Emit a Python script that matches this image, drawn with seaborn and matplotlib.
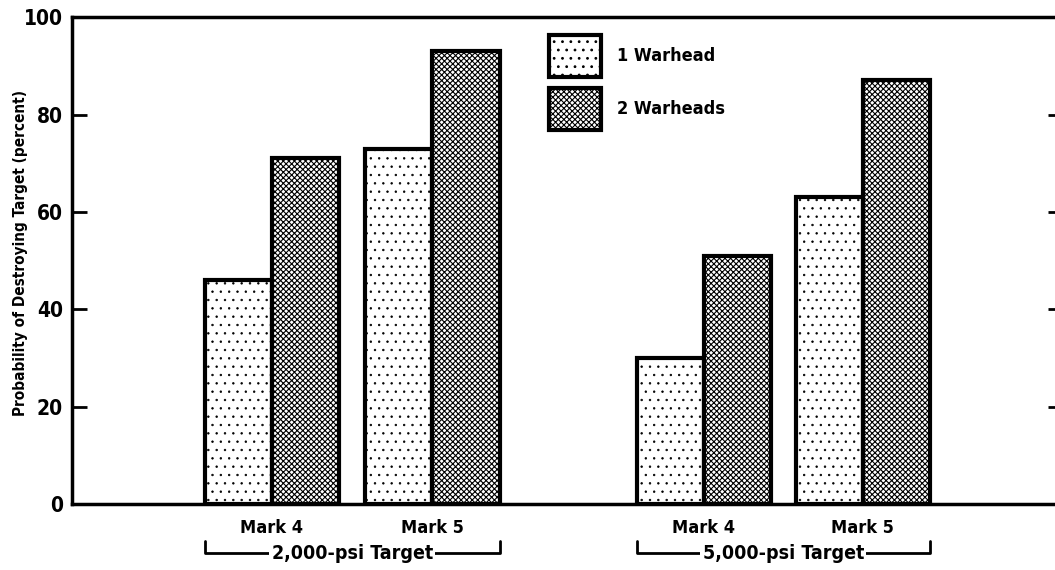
import pandas as pd
import matplotlib
matplotlib.use("Agg")
import matplotlib.pyplot as plt
import matplotlib.transforms as mtransforms
from matplotlib.lines import Line2D
import seaborn as sns

# =================================================================
# DATI
# =================================================================
targets = ["2,000-psi Target", "2,000-psi Target", "5,000-psi Target", "5,000-psi Target"]
missiles = ["Mark 4", "Mark 5", "Mark 4", "Mark 5"]
one_warhead = [46, 73, 30, 63]
two_warheads = [71, 93, 51, 87]
series_labels = ["1 Warhead", "2 Warheads"]
y_ticks = [0, 20, 40, 60, 80, 100]
y_label = "Probability of Destroying Target (percent)"

# layout: centri dei gruppi sull'asse x (spazio extra tra i due target)
group_pos = [1.0, 2.0, 3.69, 4.68]
PAIR_WIDTH = 0.835
# =================================================================

sns.set_style("ticks")
plt.rcParams["font.family"] = ["DejaVu Sans"]
plt.rcParams["font.stretch"] = "condensed"
plt.rcParams["font.weight"] = "bold"
plt.rcParams["text.color"] = "black"
plt.rcParams["axes.labelcolor"] = "black"
plt.rcParams["xtick.color"] = "black"
plt.rcParams["ytick.color"] = "black"
plt.rcParams["hatch.linewidth"] = 0.8
plt.rcParams["hatch.color"] = "black"


def build_frame():
    rows = []
    for pos, tgt, m, v1, v2 in zip(group_pos, targets, missiles, one_warhead, two_warheads):
        rows.append({"pos": pos, "target": tgt, "missile": m, "series": series_labels[0], "value": v1})
        rows.append({"pos": pos, "target": tgt, "missile": m, "series": series_labels[1], "value": v2})
    return pd.DataFrame(rows)


def main():
    df = build_frame()
    fig = plt.figure(figsize=(10.55, 5.70), dpi=100)
    ax = fig.add_axes([0.0682, 0.1158, 0.9318, 0.854])

    min_gap = min(b - a for a, b in zip(sorted(group_pos)[:-1], sorted(group_pos)[1:]))
    sns.barplot(data=df, x="pos", y="value", hue="series", hue_order=series_labels,
                native_scale=True, width=PAIR_WIDTH / min_gap, dodge=True,
                palette=["white", "white"], edgecolor="black", linewidth=3,
                errorbar=None, legend=False, ax=ax)

    # retini: puntinato rado per 1 testata, trama fitta per 2 testate
    for container, hatch, hlw in zip(ax.containers, ["..", "xxxxxx"], [0.5, 0.8]):
        for bar in container:
            bar.set_hatch(hatch)
            if hasattr(bar, "set_hatch_linewidth"):
                bar.set_hatch_linewidth(hlw)

    ax.set_ylim(0, 100)
    ax.set_xlim(-0.246, 5.878)
    ax.set_yticks(y_ticks)
    ax.set_yticklabels([str(t) for t in y_ticks], fontsize=15, fontweight="bold")
    ax.set_xticks(group_pos)
    ax.set_xticklabels(missiles, fontsize=13, fontweight="bold")
    ax.tick_params(axis="x", length=0, pad=11)
    ax.tick_params(axis="y", direction="in", length=11, width=2, pad=6.5)
    ax.set_xlabel("")
    ax.set_ylabel(y_label, fontsize=11, fontweight="bold")
    ax.yaxis.set_label_coords(-0.045, 0.515)

    for side in ["top", "left", "bottom"]:
        ax.spines[side].set_linewidth(2.5)
        ax.spines[side].set_color("black")
    ax.spines["right"].set_visible(False)

    # tacche corte sul lato destro
    ax2 = ax.twinx()
    ax2.set_ylim(ax.get_ylim())
    ax2.set_yticks(y_ticks[1:-1])
    ax2.tick_params(axis="y", direction="in", length=5, width=2, labelright=False)
    for side in ax2.spines:
        ax2.spines[side].set_visible(False)

    # legenda
    ax.legend(handles=list(ax.containers), labels=series_labels, loc="upper left",
              bbox_to_anchor=(0.485, 0.963), frameon=False, borderpad=0, borderaxespad=0,
              handlelength=2.88, handleheight=3.2, labelspacing=0.58, handletextpad=0.89,
              prop={"size": 13, "weight": "bold", "stretch": "condensed"})

    # parentesi sotto ogni target
    trans = mtransforms.blended_transform_factory(ax.transData, ax.transAxes)
    for tgt in dict.fromkeys(targets):
        pos = [p for p, t in zip(group_pos, targets) if t == tgt]
        left = min(pos) - PAIR_WIDTH / 2
        right = max(pos) + PAIR_WIDTH / 2
        line = Line2D([left, left, right, right], [-0.076, -0.101, -0.101, -0.076],
                      transform=trans, color="black", lw=2, clip_on=False, zorder=3)
        ax.add_line(line)
        ax.text((left + right) / 2, -0.101, tgt, transform=trans, ha="center", va="center",
                fontsize=14, fontweight="bold", zorder=4, clip_on=False,
                bbox=dict(facecolor="white", edgecolor="none", pad=1.5))

    fig.savefig("out.png", dpi=100)


if __name__ == "__main__":
    main()
